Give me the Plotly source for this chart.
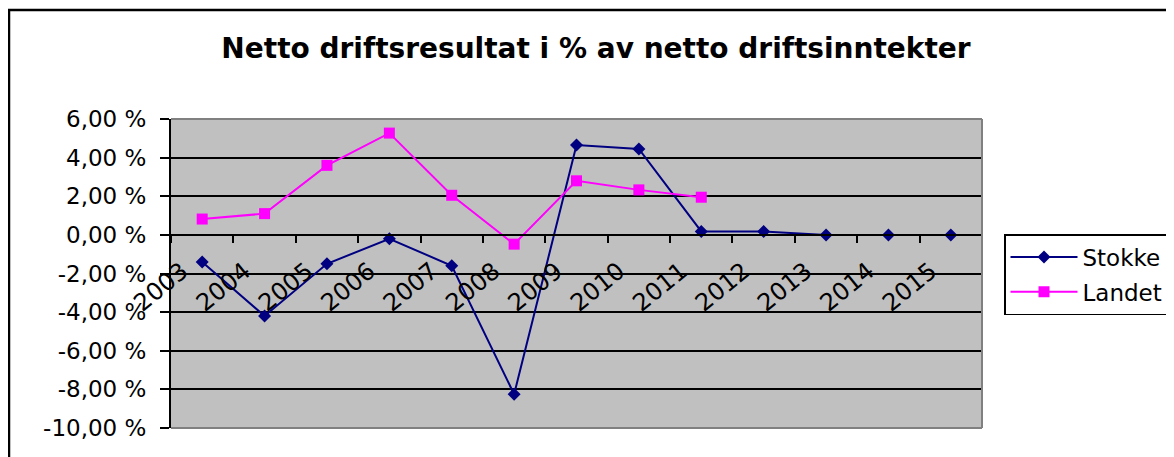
import plotly.graph_objects as go

years = ["2003", "2004", "2005", "2006", "2007", "2008", "2009",
         "2010", "2011", "2012", "2013", "2014", "2015"]
stokke = [-1.4, -4.2, -1.5, -0.2, -1.6, -8.25, 4.65, 4.45, 0.18, 0.18, 0.0, 0.0, 0.0]
landet = [0.82, 1.1, 3.6, 5.27, 2.05, -0.48, 2.8, 2.33, 1.95, None, None, None, None]
y_ticks = [-10, -8, -6, -4, -2, 0, 2, 4, 6]
y_ticktext = ["-10,00 %", "-8,00 %", "-6,00 %", "-4,00 %", "-2,00 %",
              "0,00 %", "2,00 %", "4,00 %", "6,00 %"]
title_text = "Netto driftsresultat i % av netto driftsinntekter"

OFF = 8  # page body margin
W, H = 1174 - OFF, 457 - OFF
L, T = 171 - OFF, 119 - OFF
R = W - (982 - OFF)
B = H - (428 - OFF)
pw, ph = W - L - R, H - T - B
ymin, ymax = -10, 6
FONT = "DejaVu Sans"

fig = go.Figure()
fig.add_trace(go.Scatter(
    x=years, y=stokke, name="Stokke", mode="lines+markers",
    line=dict(color="#000080", width=2),
    marker=dict(symbol="diamond", size=10, color="#000080"),
    legendgroup="a"))
fig.add_trace(go.Scatter(
    x=years, y=landet, name="Landet", mode="lines+markers",
    line=dict(color="#FF00FF", width=2),
    marker=dict(symbol="square", size=11, color="#FF00FF"),
    legendgroup="b"))

zero_pos = (0 - ymin) / (ymax - ymin)

def px_x(x):  # screen px -> paper x
    return (x - OFF - L) / pw

def px_y(y):  # screen px -> paper y
    return (H - B - (y - OFF)) / ph

fig.update_layout(
    width=W, height=H,
    margin=dict(l=L, r=R, t=T, b=B, autoexpand=False),
    paper_bgcolor="white", plot_bgcolor="#C0C0C0",
    title=dict(text="<b>" + title_text + "</b>", x=(596 - OFF) / W, xref="container",
               xanchor="center", y=1 - (48 - OFF) / H, yref="container", yanchor="middle",
               font=dict(family=FONT, size=28, color="black")),
    xaxis=dict(type="category", range=[-0.5, 12.5], tickson="boundaries",
               anchor="free", position=zero_pos,
               showline=True, linecolor="black", linewidth=2,
               ticks="outside", ticklen=7, tickcolor="black", tickwidth=2,
               showgrid=False, zeroline=False, tickangle=-39,
               ticklabelshift=-20, ticklabelstandoff=12,
               tickfont=dict(family=FONT, size=24, color="black")),
    yaxis=dict(range=[ymin, ymax], tickvals=y_ticks, ticktext=y_ticktext,
               showline=True, linecolor="black", linewidth=2,
               ticks="outside", ticklen=9, tickcolor="black", tickwidth=2,
               showgrid=True, gridcolor="black", gridwidth=2, zeroline=False,
               ticklabelstandoff=9,
               tickfont=dict(family=FONT, size=23, color="black")),
    showlegend=True,
    legend=dict(x=px_x(1004), xanchor="left", y=px_y(234), yanchor="top",
                bordercolor="black", borderwidth=1.5, bgcolor="white",
                font=dict(family=FONT, size=23, color="black"),
                tracegroupgap=2, itemwidth=67),
    shapes=[
        # outer chart border
        dict(type="rect", xref="paper", yref="paper",
             x0=px_x(9), x1=1.6, y0=-0.6, y1=px_y(10),
             line=dict(color="black", width=2.5), fillcolor="rgba(0,0,0,0)", layer="above"),
        # plot area border (gray) top/right/bottom
        dict(type="line", xref="paper", yref="paper", x0=0, x1=1, y0=1, y1=1,
             line=dict(color="#808080", width=2), layer="above"),
        dict(type="line", xref="paper", yref="paper", x0=1, x1=1, y0=0, y1=1,
             line=dict(color="#808080", width=2), layer="above"),
        dict(type="line", xref="paper", yref="paper", x0=0, x1=1, y0=0, y1=0,
             line=dict(color="#808080", width=2), layer="above"),
    ],
)

fig.write_html("out.html")
